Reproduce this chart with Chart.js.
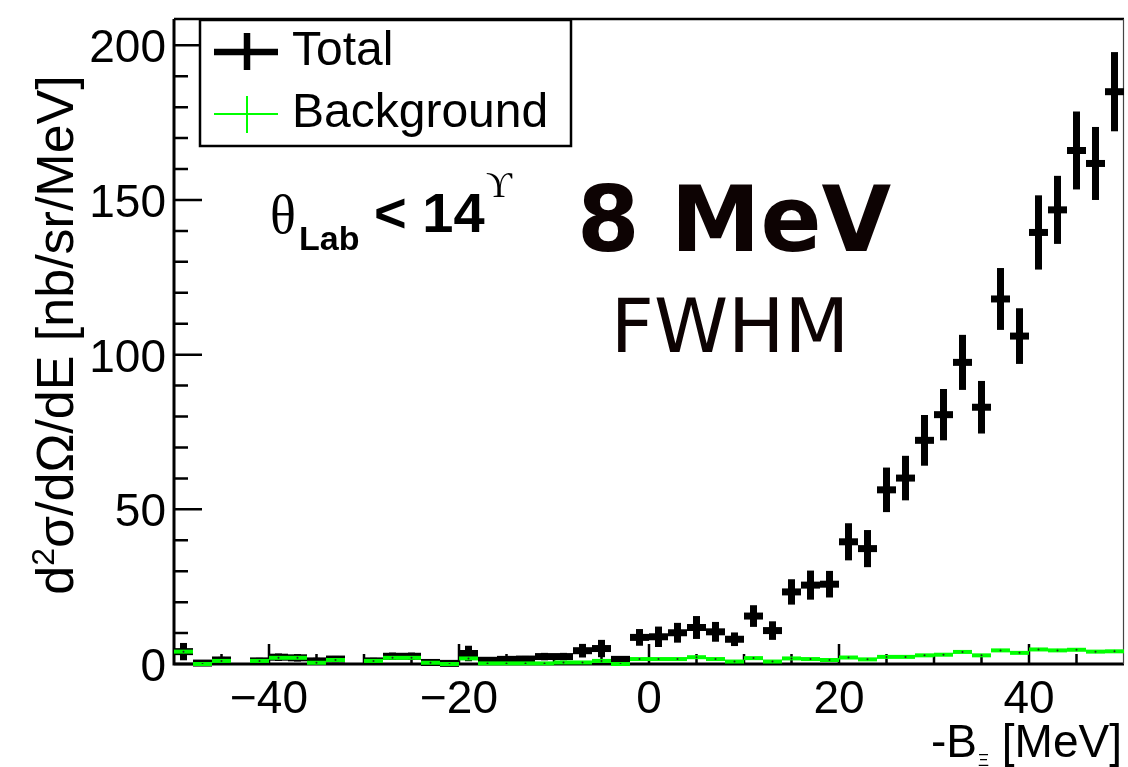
<!DOCTYPE html>
<html>
<head>
<meta charset="utf-8">
<script src="https://cdn.jsdelivr.net/npm/chart.js@4.4.1/dist/chart.umd.min.js"></script>
<style>
  html, body { margin: 0; padding: 0; background: #fff; }
  #wrap { width: 1128px; height: 767px; position: relative; }
</style>
</head>
<body>
<div id="wrap"><canvas id="myChart"></canvas></div>
<script>
// --- DATA ---
const binCenters = [-49, -47, -45, -43, -41, -39, -37, -35, -33, -31, -29, -27, -25, -23, -21, -19, -17, -15, -13, -11,
    -9, -7, -5, -3, -1, 1, 3, 5, 7, 9, 11, 13, 15, 17, 19, 21, 23, 25, 27, 29,
    31, 33, 35, 37, 39, 41, 43, 45, 47, 49];
const binWidth = 2;

const totalValues = [4.0, 0.3, 1.3, null, 1.0, 2.2, 2.0, 1.0, 1.6, null, 1.0, 2.5, 2.5, 0.5, 0.2, 3.4, 1.2, 1.5, 1.6, 2.4,
    2.4, 4.3, 5.0, 1.5, 8.6, 8.8, 10.1, 11.8, 10.4, 8.0, 15.5, 10.8, 23.3, 25.5, 25.8, 39.5, 37.3, 56.3, 60.1, 72.3,
    80.6, 97.5, 83.0, 118.0, 106.0, 139.5, 146.8, 166.0, 161.8, 185.0];
const totalErrors = [2.8, 0.6, 1.0, null, 1.0, 1.2, 1.2, 1.0, 1.0, null, 1.0, 1.2, 1.2, 0.6, 0.4, 2.5, 1.0, 1.0, 1.0, 1.2,
    1.2, 2.2, 2.8, 1.0, 2.7, 3.3, 3.2, 3.7, 3.2, 2.2, 3.5, 3.0, 4.1, 4.7, 4.3, 6.0, 6.0, 7.2, 7.2, 8.2,
    8.3, 8.9, 8.5, 10.0, 9.0, 12.0, 11.0, 12.6, 11.8, 12.8];

const bgValues = [4.0, 0.0, 1.0, null, 1.0, 2.0, 2.0, 0.4, 1.3, null, 1.0, 2.0, 2.0, 0.4, 0.0, 1.8, 0.2, 0.2, 0.2, 0.2,
    0.5, 0.5, 1.0, 0.0, 1.6, 1.6, 1.6, 2.2, 1.6, 0.8, 1.9, 0.8, 1.8, 1.6, 1.3, 2.1, 1.5, 2.3, 2.3, 2.8,
    3.0, 3.9, 2.8, 4.4, 3.6, 4.7, 4.4, 4.6, 4.0, 4.1];
const bgErrors = [0.5, 0.2, 0.3, null, 0.3, 0.4, 0.4, 0.2, 0.3, null, 0.3, 0.4, 0.4, 0.2, 0.2, 0.4, 0.2, 0.2, 0.2, 0.2,
    0.2, 0.2, 0.3, 0.2, 0.3, 0.3, 0.3, 0.4, 0.3, 0.3, 0.3, 0.3, 0.3, 0.3, 0.3, 0.4, 0.3, 0.4, 0.4, 0.4,
    0.4, 0.5, 0.4, 0.5, 0.5, 0.5, 0.5, 0.5, 0.5, 0.5];

const xTickLabels = [-40, -20, 0, 20, 40];
const xMinorTicks = [-45, -35, -30, -25, -15, -10, -5, 5, 10, 15, 25, 30, 35, 45];
const yTickLabels = [0, 50, 100, 150, 200];
const yMinorTicks = [10, 20, 30, 40, 60, 70, 80, 90, 110, 120, 130, 140, 160, 170, 180, 190];

const seriesNames = ['Total', 'Background'];

// --- HELPERS ---
function toPoints(vals, errs) {
    const pts = [];
    binCenters.forEach((c, i) => {
        if (vals[i] === null) return;
        pts.push({ x: c, y: vals[i], err: errs[i] });
    });
    return pts;
}

const SANS = '"Liberation Sans", Arial, Helvetica, sans-serif';
const SERIF = '"Liberation Serif", "DejaVu Serif", serif';
const DEJAVU = '"DejaVu Sans", Verdana, sans-serif';

// --- FRAME, TICKS, ERROR BARS ---
const rootStyle = {
    id: 'rootStyle',
    beforeDatasetsDraw(chart) {
        const { ctx, chartArea: a, scales: { x, y } } = chart;
        ctx.save();
        ctx.strokeStyle = '#000';
        ctx.lineCap = 'butt';

        // ticks (inside the frame)
        ctx.lineWidth = 2.5;
        ctx.beginPath();
        xTickLabels.forEach(v => { const px = x.getPixelForValue(v); ctx.moveTo(px, a.bottom); ctx.lineTo(px, a.bottom - 20); });
        xMinorTicks.forEach(v => { const px = x.getPixelForValue(v); ctx.moveTo(px, a.bottom); ctx.lineTo(px, a.bottom - 10); });
        yTickLabels.forEach(v => { const py = y.getPixelForValue(v); ctx.moveTo(a.left, py); ctx.lineTo(a.left + 28, py); });
        yMinorTicks.forEach(v => { const py = y.getPixelForValue(v); ctx.moveTo(a.left, py); ctx.lineTo(a.left + 14, py); });
        ctx.stroke();

        // frame
        ctx.lineWidth = 3;
        ctx.beginPath();
        ctx.moveTo(a.left, a.top); ctx.lineTo(a.left, a.bottom); ctx.lineTo(a.right, a.bottom);
        ctx.stroke();
        ctx.lineWidth = 2.5;
        ctx.beginPath();
        ctx.moveTo(a.left, a.top); ctx.lineTo(a.right, a.top);
        ctx.stroke();
        ctx.lineWidth = 1.2;
        ctx.strokeStyle = '#444';
        ctx.beginPath();
        ctx.moveTo(a.right - 0.5, a.top); ctx.lineTo(a.right - 0.5, a.bottom);
        ctx.stroke();

        // error bars
        ctx.beginPath();
        ctx.rect(a.left, a.top, a.right - a.left, a.bottom - a.top + 3);
        ctx.clip();
        chart.data.datasets.forEach(ds => {
            ctx.strokeStyle = ds.barColor;
            ds.data.forEach(p => {
                const px = x.getPixelForValue(p.x);
                const py = y.getPixelForValue(p.y);
                const x0 = x.getPixelForValue(p.x - binWidth / 2);
                const x1 = x.getPixelForValue(p.x + binWidth / 2);
                const yt = y.getPixelForValue(p.y + p.err);
                const yb = y.getPixelForValue(Math.max(0, p.y - p.err));
                ctx.lineWidth = ds.hWidth;
                ctx.beginPath();
                ctx.moveTo(x0, py); ctx.lineTo(x1, py);
                ctx.stroke();
                ctx.lineWidth = ds.vWidth;
                ctx.beginPath();
                ctx.moveTo(px, yt); ctx.lineTo(px, yb);
                ctx.stroke();
            });
        });
        ctx.restore();
    },
    afterDraw(chart) {
        const { ctx, chartArea: a, scales: { x, y } } = chart;
        ctx.save();
        ctx.fillStyle = '#000';

        // y tick labels
        ctx.font = '46px ' + SANS;
        ctx.textAlign = 'right';
        ctx.textBaseline = 'alphabetic';
        yTickLabels.forEach(v => ctx.fillText(String(v), 166, y.getPixelForValue(v) + 17));

        // x tick labels
        ctx.textAlign = 'center';
        xTickLabels.forEach(v => {
            const txt = v < 0 ? '\u2212' + Math.abs(v) : String(v);
            ctx.fillText(txt, x.getPixelForValue(v), 713);
        });

        // x title: -B_Xi [MeV]
        ctx.textAlign = 'left';
        let cx = 931;
        ctx.fillText('-B', cx, 757);
        cx += ctx.measureText('-B').width + 1;
        ctx.font = '17px ' + SANS;
        ctx.fillText('\u039E', cx, 766);
        cx += ctx.measureText('\u039E').width;
        ctx.font = '46px ' + SANS;
        ctx.fillText(' [MeV]', cx, 757);

        // y title, rotated
        ctx.save();
        ctx.translate(73, 335);
        ctx.rotate(-Math.PI / 2);
        const big = '52px ' + SANS, small = '32px ' + SANS;
        const rest = '\u03C3/d\u03A9/dE [nb/sr/MeV]';
        ctx.font = big;
        const wD = ctx.measureText('d').width;
        const wR = ctx.measureText(rest).width;
        ctx.font = small;
        const w2 = ctx.measureText('2').width;
        let tx = -(wD + w2 + wR) / 2;
        ctx.font = big; ctx.fillText('d', tx, 0); tx += wD;
        ctx.font = small; ctx.fillText('2', tx, -19); tx += w2;
        ctx.font = big; ctx.fillText(rest, tx, 0);
        ctx.restore();

        // theta_Lab < 14^Upsilon
        ctx.font = '54px ' + SERIF;
        ctx.fillText('\u03B8', 270, 233);
        ctx.font = 'bold 34px ' + SANS;
        ctx.fillText('Lab', 299, 250);
        ctx.font = 'bold 56px ' + SANS;
        ctx.fillText('< 14', 374, 232);
        ctx.font = '36px ' + SERIF;
        ctx.fillText('\u03D2', 486, 197);

        // 8 MeV / FWHM
        ctx.fillStyle = '#0d0303';
        ctx.textAlign = 'center';
        ctx.font = 'bold 90px ' + DEJAVU;
        ctx.fillText('8 MeV', 734, 251);
        ctx.font = '75px ' + DEJAVU;
        ctx.fillText('FWHM', 730, 352);

        // legend
        ctx.fillStyle = '#fff';
        ctx.fillRect(200, 20, 371, 126);
        ctx.strokeStyle = '#000';
        ctx.lineWidth = 2.5;
        ctx.strokeRect(200, 20, 371, 126);
        ctx.lineWidth = 6.5;
        ctx.beginPath();
        ctx.moveTo(214, 52); ctx.lineTo(278, 52);
        ctx.moveTo(247, 33); ctx.lineTo(247, 70);
        ctx.stroke();
        ctx.strokeStyle = '#00ff00';
        ctx.lineWidth = 2;
        ctx.beginPath();
        ctx.moveTo(214, 114); ctx.lineTo(278, 114);
        ctx.moveTo(247, 96); ctx.lineTo(247, 133);
        ctx.stroke();
        ctx.fillStyle = '#000';
        ctx.textAlign = 'left';
        ctx.font = '48px ' + SANS;
        ctx.fillText(seriesNames[0], 292, 65);
        ctx.fillText(seriesNames[1], 292, 127);
        ctx.restore();
    }
};

const ctx = document.getElementById('myChart').getContext('2d');
new Chart(ctx, {
    type: 'scatter',
    data: {
        datasets: [
            {
                label: seriesNames[0],
                data: toPoints(totalValues, totalErrors),
                barColor: '#000', hWidth: 7, vWidth: 7,
                pointRadius: 0
            },
            {
                label: seriesNames[1],
                data: toPoints(bgValues, bgErrors),
                barColor: '#00ff00', hWidth: 4, vWidth: 1.5,
                pointRadius: 1, pointBackgroundColor: '#222', pointBorderWidth: 0
            }
        ]
    },
    options: {
        responsive: true,
        maintainAspectRatio: false,
        animation: false,
        layout: { padding: { left: 174, right: 1, top: 19, bottom: 103 } },
        scales: {
            x: { type: 'linear', min: -50, max: 50, display: false },
            y: { type: 'linear', min: 0, max: 208.5, display: false }
        },
        plugins: { legend: { display: false }, tooltip: { enabled: false } }
    },
    plugins: [rootStyle]
});
</script>
</body>
</html>
